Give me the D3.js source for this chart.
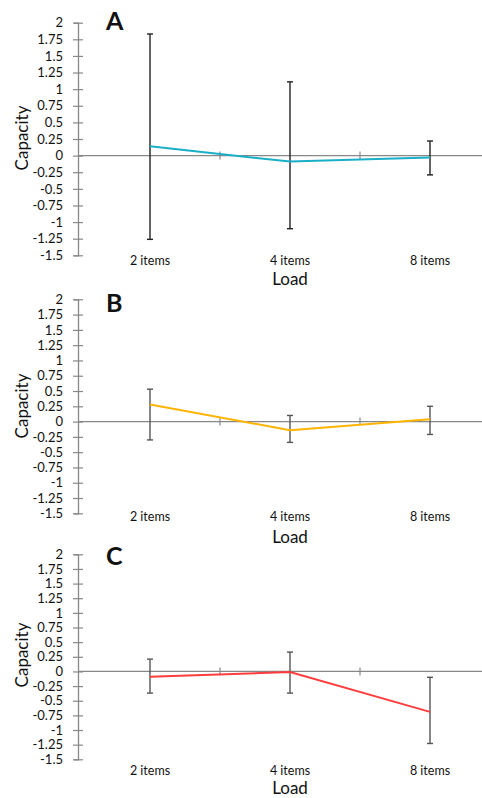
<!DOCTYPE html>
<html>
<head>
<meta charset="utf-8">
<script src="https://cdn.jsdelivr.net/npm/d3@7"></script>
<style>
  body { margin: 0; background: #fff; }
  text { font-family: Lato, "Open Sans", sans-serif; fill: #111; }
</style>
</head>
<body>
<div id="chart"></div>
<script>
// data
var categories = ["2 items", "4 items", "8 items"];
var yTicks = [2, 1.75, 1.5, 1.25, 1, 0.75, 0.5, 0.25, 0, -0.25, -0.5, -0.75, -1, -1.25, -1.5];

var meanA = [0.14, -0.09, -0.03];
var lowA  = [-1.26, -1.10, -0.29];
var highA = [1.83, 1.11, 0.22];

var meanB = [0.28, -0.14, 0.04];
var lowB  = [-0.30, -0.34, -0.21];
var highB = [0.53, 0.10, 0.25];

var meanC = [-0.09, -0.01, -0.69];
var lowC  = [-0.37, -0.37, -1.23];
var highC = [0.21, 0.33, -0.10];

var width = 482, height = 798;
var axisX = 78;

var svg = d3.select("#chart").append("svg")
    .attr("width", width)
    .attr("height", height);

var x = d3.scaleBand()
    .domain(categories)
    .range([80, 500]);

// panel layout
var panels = [
    { letter: "A", mean: meanA, low: lowA, high: highA, top: 22.7, bottom: 255.3,
      catY: 265, loadY: 285, letterY: 30, capY: 138, color: "#1aafc8", err: "#222" },
    { letter: "B", mean: meanB, low: lowB, high: highB, top: 299.3, bottom: 513.3,
      catY: 521, loadY: 543, letterY: 312, capY: 406, color: "#ffb400", err: "#555" },
    { letter: "C", mean: meanC, low: lowC, high: highC, top: 554.3, bottom: 759.3,
      catY: 775, loadY: 794, letterY: 565, capY: 655, color: "#ff3d3d", err: "#555" }
];

panels.forEach(function (p) {
    var y = d3.scaleLinear()
        .domain([-1.5, 2])
        .range([p.bottom, p.top]);

    var g = svg.append("g");

    // y axis with cross ticks
    var yAxis = g.append("g")
        .attr("transform", "translate(" + axisX + ",0)")
        .call(d3.axisLeft(y).tickValues(yTicks).tickFormat(function (d) { return String(d); }).tickSize(4).tickPadding(11));
    yAxis.select(".domain").attr("stroke", "#888").attr("stroke-width", 1.3);
    yAxis.selectAll(".tick line").attr("x1", -5).attr("x2", 5).attr("stroke", "#888").attr("stroke-width", 1.2);
    yAxis.selectAll(".tick text")
        .attr("font-family", "Lato, 'Open Sans', sans-serif")
        .attr("font-size", 13)
        .attr("fill", "#111");

    // zero line with category boundary ticks
    g.append("line")
        .attr("x1", axisX).attr("x2", 500)
        .attr("y1", y(0)).attr("y2", y(0))
        .attr("stroke", "#888").attr("stroke-width", 1.3);
    g.selectAll(".cat-tick")
        .data(categories.slice(1))
        .enter().append("line")
        .attr("x1", function (d) { return x(d); })
        .attr("x2", function (d) { return x(d); })
        .attr("y1", y(0) - 4).attr("y2", y(0) + 4)
        .attr("stroke", "#888").attr("stroke-width", 1.2);

    // category labels
    var xAxis = g.append("g")
        .attr("transform", "translate(0," + (p.catY - 9) + ")")
        .call(d3.axisBottom(x).tickSize(0).tickPadding(0));
    xAxis.select(".domain").remove();
    xAxis.selectAll(".tick text")
        .attr("font-family", "Lato, 'Open Sans', sans-serif")
        .attr("font-size", 12.5)
        .attr("fill", "#111");

    // axis titles
    g.append("text")
        .attr("x", x("4 items") + x.bandwidth() / 2)
        .attr("y", p.loadY)
        .attr("text-anchor", "middle")
        .attr("font-size", 17)
        .text("Load");
    g.append("text")
        .attr("transform", "translate(28," + p.capY + ") rotate(-90)")
        .attr("text-anchor", "middle")
        .attr("font-size", 17)
        .text("Capacity");

    // panel letter
    g.append("text")
        .attr("x", 106)
        .attr("y", p.letterY)
        .attr("font-family", "'Liberation Sans', Arial, sans-serif")
        .attr("font-weight", "bold")
        .attr("font-size", 25)
        .attr("fill", "#000")
        .text(p.letter);

    var data = categories.map(function (c, i) {
        return { cat: c, mean: p.mean[i], low: p.low[i], high: p.high[i] };
    });
    var cx = function (d) { return x(d.cat) + x.bandwidth() / 2; };

    // error bars
    var eb = g.selectAll(".err")
        .data(data)
        .enter().append("g")
        .attr("stroke", p.err)
        .attr("stroke-width", 1.4);
    eb.append("line")
        .attr("x1", cx).attr("x2", cx)
        .attr("y1", function (d) { return y(d.high); })
        .attr("y2", function (d) { return y(d.low); });
    eb.append("line")
        .attr("x1", function (d) { return cx(d) - 3; })
        .attr("x2", function (d) { return cx(d) + 3; })
        .attr("y1", function (d) { return y(d.high); })
        .attr("y2", function (d) { return y(d.high); });
    eb.append("line")
        .attr("x1", function (d) { return cx(d) - 3; })
        .attr("x2", function (d) { return cx(d) + 3; })
        .attr("y1", function (d) { return y(d.low); })
        .attr("y2", function (d) { return y(d.low); });

    // mean line
    g.append("path")
        .datum(data)
        .attr("fill", "none")
        .attr("stroke", p.color)
        .attr("stroke-width", 2)
        .attr("d", d3.line()
            .x(cx)
            .y(function (d) { return y(d.mean); }));
});
</script>
</body>
</html>
